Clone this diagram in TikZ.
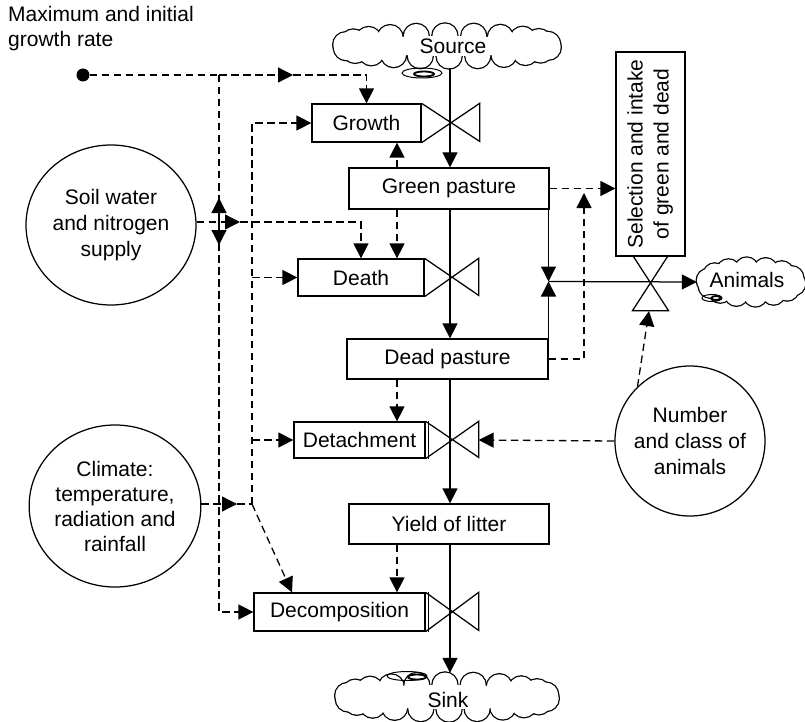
\documentclass[tikz,border=0pt]{standalone}
\usepackage{fontspec}
\setmainfont{Liberation Sans}
\usepackage{graphicx}
\usetikzlibrary{arrows.meta, shapes.geometric, calc}

% bowtie valve drawn to the right of a flow box: width #2, height #3
\newcommand{\flowvalve}[3]{\draw[flow] (#1.north east) -- ++(#2,#3) -- ++(0,-#3) -- (#1.south east);}

% scalloped cloud around coordinate #1: puff centres on an ellipse
% with radii #2 and #3, #4 puffs of radius #5
\newcommand{\puffcloud}[5]{%
  \foreach \k in {1,...,#4}{
    \draw[line width=2.5pt] ($(#1)+({#2*cos(360*\k/#4+7)},{#3*sin(360*\k/#4+7)})$) circle (#5);}
  \fill[white] (#1) ellipse ({#2} and {#3});
  \foreach \k in {1,...,#4}{
    \fill[white] ($(#1)+({#2*cos(360*\k/#4+7)},{#3*sin(360*\k/#4+7)})$) circle (#5);}
}

\begin{document}
\begin{tikzpicture}[x=1pt, y=-1pt,
  every node/.style={font=\fontsize{21}{26}\selectfont},
  flow/.style={line width=1.25pt},
  box/.style={draw, line width=1.25pt, inner sep=0pt},
  dsh/.style={line width=1.3pt, dash pattern=on 7.5pt off 4.5pt},
  tip/.style={-{Triangle[length=15pt,width=15pt]}},
  area/.style={inner sep=0pt},
  hole/.style={ellipse, draw, line width=1pt, inner sep=0pt},
  holein/.style={ellipse, draw, line width=1.8pt, inner sep=0pt},
  ring/.style={draw, line width=1.25pt, align=center, inner sep=0pt}
]
\useasboundingbox (0,0) rectangle (805,722);

% title of the rate input
\node[anchor=north west, align=left, inner sep=0pt, font=\fontsize{21}{25}\selectfont] (title) at (8,6) {Maximum and initial\\growth rate};
\node[circle, fill, inner sep=0pt, minimum size=13pt] (dot) at (83,75) {};

% source and sinks
\coordinate (srcc) at (447,46);
\coordinate (sinkc) at (447,697);
\coordinate (anic) at (751,282);
\puffcloud{srcc}{102}{10}{22}{12.5}
\puffcloud{sinkc}{100}{12}{22}{12.5}
\puffcloud{anic}{43}{13}{14}{11.5}

\node[area, minimum width=231pt, minimum height=44pt] (source) at (srcc) {};
\node[area] (srctext) at (453,46) {Source};
\node[hole, minimum width=40pt, minimum height=10pt] (srchole) at (422,73) {};
\node[holein, minimum width=20pt, minimum height=5pt] (srcholein) at (424,74) {};

\node[area, minimum width=226pt, minimum height=48pt] (sink) at (sinkc) {};
\node[area] (sinktext) at (448,700) {Sink};
\node[hole, minimum width=40pt, minimum height=9pt] (sinkhole) at (407,676) {};
\node[holein, minimum width=18pt, minimum height=5pt] (sinkholein) at (417,677) {};

\node[area, minimum width=108pt, minimum height=50pt] (animals) at (anic) {};
\node[area] (anitext) at (747,280) {Animals};
\node[hole, minimum width=20pt, minimum height=7pt] (anihole) at (712,298) {};
\node[holein, minimum width=9pt, minimum height=4pt] (aniholein) at (716,298) {};

% pools and rate boxes
\node[box, minimum width=109pt, minimum height=38pt] (growth) at (366.5,123) {Growth};
\node[box, minimum width=200pt, minimum height=41pt] (green) at (449,188.5) {Green pasture};
\node[box, minimum width=126pt, minimum height=37pt] (death) at (361,277.5) {Death};
\node[box, minimum width=201pt, minimum height=40pt] (dead) at (447.5,359) {Dead pasture};
\node[box, minimum width=131pt, minimum height=36pt] (detach) at (359.5,440) {Detachment};
\node[box, minimum width=200pt, minimum height=40pt] (yield) at (449,524) {Yield of litter};
\node[box, minimum width=171pt, minimum height=38pt] (decomp) at (339.5,612) {Decomposition};
\node[box, minimum width=69pt, minimum height=204pt] (select) at (650.5,154)
  {\rotatebox{90}{\begin{tabular}{@{}c@{}}Selection and intake\\of green and dead\end{tabular}}};

% valves
\flowvalve{growth}{58}{38}
\flowvalve{death}{54}{37}
\flowvalve{detach}{53}{36}
\flowvalve{decomp}{53}{38}
\draw[flow] ([xshift=2.5pt]detach.north east) -- ([xshift=2.5pt]detach.south east);
\draw[flow] ([xshift=2.5pt]decomp.north east) -- ([xshift=2.5pt]decomp.south east);
\draw[flow] ([xshift=-17pt]select.south) -- ++(35,54) -- ++(-36,0) -- ++(35,-54);

% driving variables
\node[ring, ellipse, minimum width=170pt, minimum height=160pt] (soil) at (111,225) {Soil water\\and nitrogen\\supply};
\node[ring, ellipse, minimum width=164pt, minimum height=162pt, font=\fontsize{21}{25}\selectfont] (climate) at (115,506) {Climate:\\temperature,\\radiation and\\rainfall};
\node[ring, circle, minimum size=150pt] (number) at (690,441) {Number\\and class of\\animals};

% junction points
\coordinate (fx) at (450,0);
\coordinate (xd) at (397,0);
\coordinate (jr) at (548.5,281.5);
\coordinate (ja) at (219,75);
\coordinate (ta) at (293,75);
\coordinate (sj) at (219,222);
\coordinate (sup) at (219,198);
\coordinate (sdn) at (219,245);
\coordinate (srt) at (240,222);
\coordinate (cb) at (252,504);
\coordinate (ct) at (237,504);
\coordinate (sd) at (584,193);
\coordinate (vb) at (649,311);

% material flows
\draw[flow, tip] (source.south -| fx) -- (green.north -| fx);
\draw[flow, tip] (green.south -| fx) -- (dead.north -| fx);
\draw[flow, tip] (dead.south -| fx) -- (yield.north -| fx);
\draw[flow, tip] (yield.south -| fx) -- (sink.north -| fx);
\draw[flow, tip] (green.south -| jr) -- (jr);
\draw[flow, tip] (dead.north -| jr) -- (jr);
\draw[flow, tip] (jr) -- (animals.west);

% information links
\draw[dsh] (dot) -- (ja);
\draw[dsh, tip] (ja) -- (ta);
\draw[dsh, tip] (ta) -| (growth.north);
\draw[dsh, tip] (ja) |- (decomp.west);

\draw[dsh, tip] (sj) -- (sup);
\draw[dsh, tip] (sj) -- (sdn);
\draw[dsh, tip] (soil.east |- sj) -- (srt);
\draw[dsh, tip] (srt) -| (death.north);

\draw[dsh, tip] (climate.east |- cb) -- (ct);
\draw[dsh] (ct) -- (cb);
\draw[dsh, tip] (cb) |- (growth.west);
\draw[dsh, tip] (death.west -| cb) -- (death.west);
\draw[dsh, tip] (detach.west -| cb) -- (detach.west);
\draw[dsh, tip] (cb) -- ([xshift=-47.5pt]decomp.north);

\draw[dsh, tip] (green.north -| xd) -- (growth.south -| xd);
\draw[dsh, tip] (green.south -| xd) -- (death.north -| xd);
\draw[dsh, tip] (dead.south -| xd) -- (detach.north -| xd);
\draw[dsh, tip] (yield.south -| xd) -- (decomp.north -| xd);

\draw[dsh, tip] (green.east) -- (select.west |- green.east);
\draw[dsh, tip] (dead.east) -| (sd);

\draw[dsh, tip] (number.134) -- (vb);
\draw[dsh, tip] (number.west) -- ([xshift=53pt]detach.east);
\end{tikzpicture}
\end{document}
